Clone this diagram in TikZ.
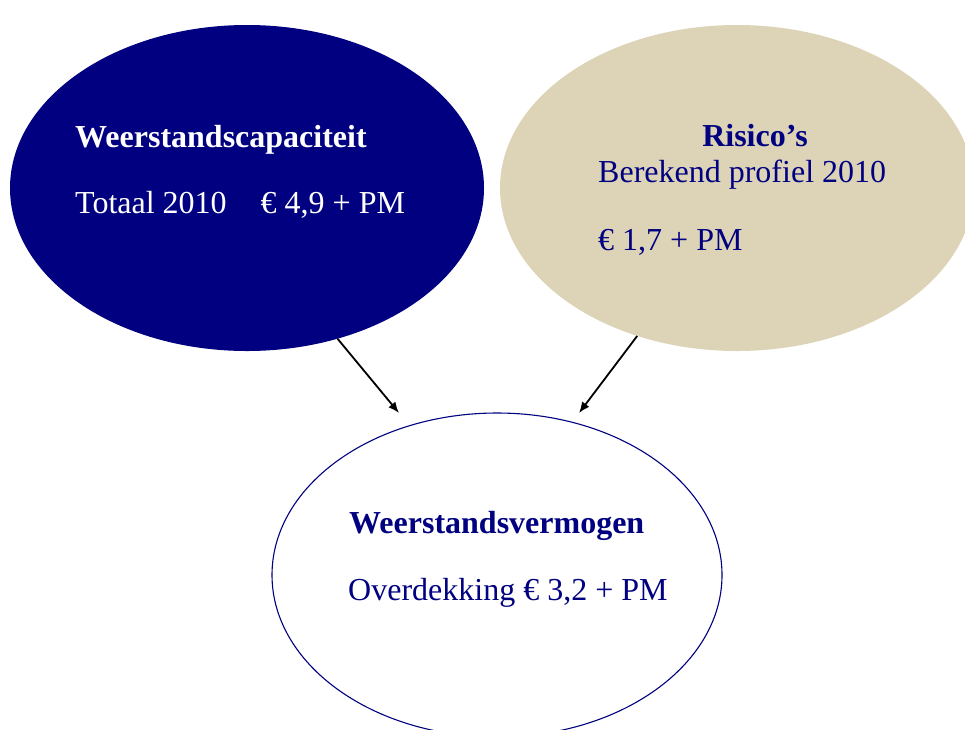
\documentclass[tikz,border=0pt]{standalone}
\usepackage{fontspec}
\setmainfont{Liberation Serif}
\usetikzlibrary{shapes.geometric,arrows.meta}
\definecolor{navy}{RGB}{0,0,128}
\definecolor{beige}{RGB}{221,212,184}
\tikzset{
  blob/.style={ellipse, inner sep=0pt, minimum width=474pt, minimum height=326pt},
  lbl/.style={anchor=base west, inner sep=0pt, font=\fontsize{32}{38}\selectfont},
  conn/.style={line width=1.8pt, -{Latex[length=11pt,width=9pt]}}
}
\begin{document}
\begin{tikzpicture}[x=1pt,y=-1pt]
\useasboundingbox (0,0) rectangle (965,729);
\fill[white] (0,0) rectangle (965,729);
\node[blob, fill=navy] (cap) at (247,188) {};
\node[blob, fill=beige] (ris) at (737,188) {};
\node[blob, draw=navy, line width=1.1pt, minimum width=450pt, minimum height=324pt] (verm) at (497,575) {};
\node[lbl, text=white] (t1) at (75,147) {\bfseries Weerstandscapaciteit};
\node[lbl, text=white] (t2) at (75,213) {Totaal 2010\hspace{34pt}€ 4,9 + PM};
\node[lbl, text=navy, anchor=base] (t3) at (755,146) {\bfseries Risico’s};
\node[lbl, text=navy] (t4) at (598,182) {Berekend profiel 2010};
\node[lbl, text=navy] (t5) at (598,250) {€ 1,7 + PM};
\node[lbl, text=navy] (t6) at (349,533) {\bfseries Weerstandsvermogen};
\node[lbl, text=navy] (t7) at (348,600) {Overdekking € 3,2 + PM};
\coordinate (end1) at (399,413);
\coordinate (end2) at (579,413);
\draw[conn] (cap.-59) -- (end1);
\draw[conn] (ris.-124) -- (end2);
\end{tikzpicture}
\end{document}
